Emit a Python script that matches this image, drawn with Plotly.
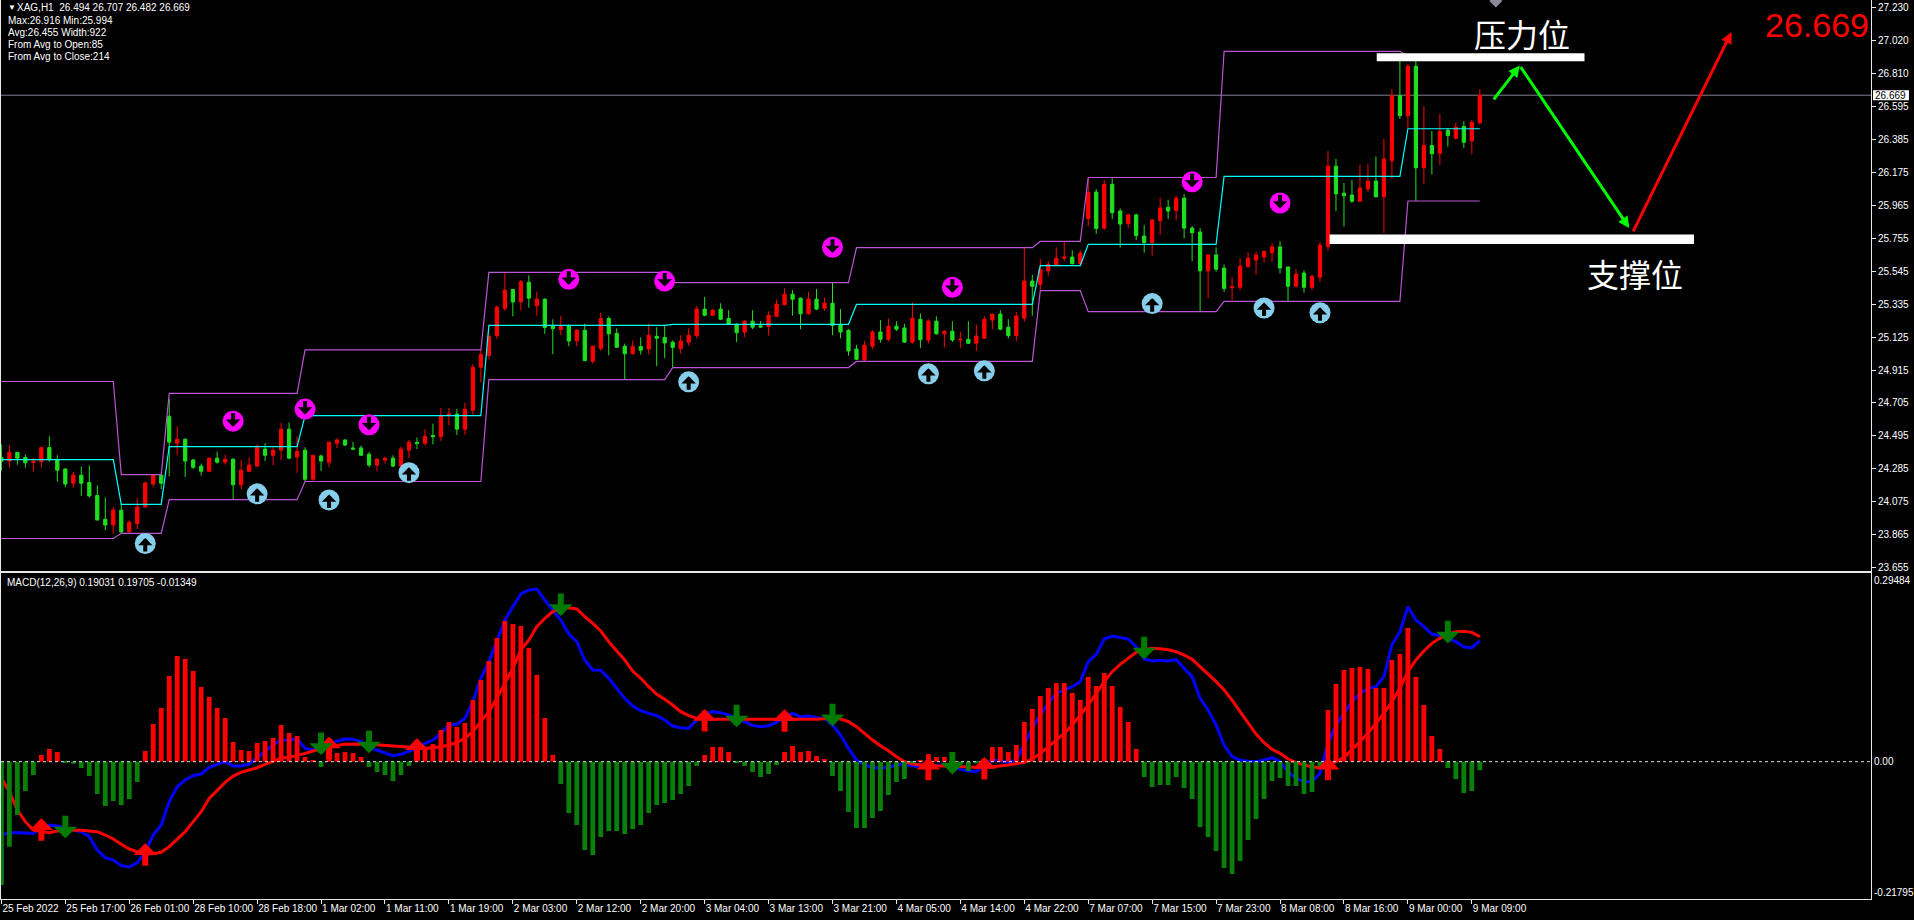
import plotly.graph_objects as go

open_ = [24.357,24.334,24.390,24.357,24.325,24.330,24.420,24.341,24.283,24.193,24.244,24.197,24.114,23.963,23.926,24.021,23.884,23.935,24.042,24.188,24.244,24.620,24.448,24.473,24.341,24.302,24.269,24.353,24.327,24.346,
24.183,24.269,24.302,24.411,24.371,24.404,24.538,24.360,24.404,24.218,24.367,24.327,24.448,24.469,24.418,24.418,24.378,24.309,24.341,24.353,24.302,24.404,24.453,24.448,24.497,24.490,24.629,24.634,24.538,24.659,
24.933,25.009,25.135,25.309,25.429,25.350,25.476,25.325,25.367,25.195,25.174,25.197,25.102,25.169,24.972,25.053,25.244,25.149,25.067,25.019,25.065,25.049,25.130,25.123,25.093,25.053,25.093,25.135,25.304,25.265,
25.304,25.244,25.207,25.158,25.227,25.197,25.193,25.258,25.332,25.399,25.374,25.274,25.367,25.309,25.341,25.204,25.169,25.049,24.979,25.067,25.158,25.111,25.195,25.183,25.093,25.239,25.107,25.227,25.146,25.163,
25.107,25.111,25.086,25.118,25.234,25.272,25.188,25.135,25.246,25.483,25.462,25.548,25.582,25.629,25.636,25.594,25.882,26.051,25.821,26.100,25.930,25.849,25.905,25.770,25.729,25.868,25.954,25.933,26.012,25.821,
25.796,25.548,25.650,25.566,25.441,25.443,25.575,25.617,25.636,25.664,25.701,25.573,25.450,25.534,25.443,25.508,25.703,26.216,26.044,26.032,25.993,26.070,26.121,26.021,26.251,26.666,26.538,26.854,26.206,26.348,
26.299,26.445,26.394,26.469,26.378,26.494]
high = [24.441,24.434,24.390,24.376,24.353,24.427,24.492,24.371,24.288,24.265,24.300,24.306,24.179,24.102,24.040,24.063,23.956,24.098,24.202,24.251,24.248,24.729,24.557,24.480,24.348,24.318,24.357,24.395,24.376,24.353,
24.341,24.357,24.441,24.448,24.422,24.578,24.580,24.492,24.422,24.371,24.376,24.457,24.480,24.473,24.457,24.434,24.392,24.353,24.362,24.371,24.427,24.469,24.485,24.538,24.573,24.673,24.673,24.666,24.708,24.951,
25.044,25.160,25.327,25.534,25.432,25.490,25.520,25.415,25.374,25.239,25.262,25.207,25.176,25.211,25.072,25.281,25.258,25.181,25.084,25.104,25.123,25.211,25.188,25.195,25.104,25.137,25.181,25.323,25.381,25.304,
25.341,25.297,25.211,25.234,25.297,25.227,25.290,25.364,25.436,25.425,25.378,25.413,25.432,25.378,25.473,25.304,25.176,25.074,25.100,25.169,25.234,25.244,25.227,25.211,25.346,25.276,25.239,25.258,25.169,25.227,
25.160,25.227,25.204,25.258,25.276,25.297,25.239,25.285,25.696,25.522,25.624,25.610,25.698,25.733,25.680,25.680,26.139,26.070,26.128,26.139,25.947,25.914,25.914,25.840,25.879,26.016,26.002,26.030,26.037,25.833,
25.821,25.652,25.698,25.589,25.508,25.629,25.668,25.671,25.680,25.726,25.738,25.573,25.559,25.552,25.524,25.731,26.313,26.262,26.109,26.128,26.225,26.232,26.278,26.390,26.708,26.916,26.868,26.916,26.599,26.441,
26.548,26.459,26.492,26.503,26.510,26.707]
low = [24.272,24.295,24.311,24.292,24.267,24.295,24.330,24.202,24.167,24.165,24.112,24.102,23.958,23.893,23.870,23.873,23.877,23.900,24.037,24.167,24.156,24.237,24.371,24.232,24.283,24.241,24.265,24.318,24.313,24.088,
24.156,24.267,24.299,24.334,24.306,24.341,24.346,24.260,24.202,24.209,24.272,24.295,24.418,24.432,24.404,24.371,24.295,24.269,24.318,24.295,24.295,24.353,24.411,24.432,24.441,24.462,24.562,24.501,24.501,24.631,
24.835,24.984,25.114,25.292,25.258,25.297,25.313,25.262,25.146,25.016,25.137,25.067,25.067,24.975,24.956,25.037,25.009,25.060,24.854,25.014,25.014,25.014,24.940,24.991,24.931,25.019,25.070,25.118,25.258,25.260,
25.234,25.207,25.093,25.125,25.176,25.183,25.135,25.253,25.327,25.262,25.176,25.269,25.297,25.292,25.137,25.118,25.007,24.979,24.975,25.049,25.091,25.100,25.165,25.091,25.084,25.056,25.084,25.142,25.060,25.093,
25.056,25.081,25.037,25.114,25.176,25.169,25.118,25.100,25.223,25.262,25.425,25.517,25.578,25.610,25.589,25.587,25.833,25.784,25.810,25.879,25.696,25.821,25.745,25.664,25.645,25.777,25.879,25.872,25.756,25.610,
25.288,25.374,25.543,25.413,25.362,25.425,25.571,25.524,25.601,25.606,25.531,25.353,25.443,25.408,25.425,25.478,25.675,25.930,25.831,25.981,25.988,26.051,26.016,25.791,26.135,26.517,26.459,25.994,26.104,26.162,
26.225,26.341,26.387,26.332,26.292,26.482]
close = [24.334,24.390,24.353,24.323,24.334,24.420,24.343,24.276,24.188,24.244,24.193,24.112,23.958,23.926,24.021,23.882,23.944,24.040,24.195,24.246,24.193,24.455,24.473,24.334,24.295,24.269,24.353,24.327,24.346,24.183,
24.276,24.309,24.420,24.371,24.404,24.538,24.353,24.395,24.218,24.371,24.334,24.455,24.469,24.436,24.411,24.371,24.309,24.346,24.353,24.302,24.411,24.455,24.446,24.492,24.490,24.622,24.634,24.538,24.666,24.933,
25.014,25.130,25.316,25.425,25.350,25.478,25.374,25.367,25.186,25.179,25.193,25.100,25.169,24.975,25.067,25.244,25.146,25.060,25.019,25.065,25.042,25.137,25.118,25.088,25.060,25.100,25.137,25.304,25.265,25.297,
25.239,25.207,25.153,25.227,25.188,25.190,25.265,25.336,25.399,25.367,25.274,25.367,25.304,25.343,25.200,25.158,25.037,24.984,25.074,25.158,25.111,25.195,25.176,25.093,25.246,25.109,25.227,25.146,25.163,25.107,
25.111,25.086,25.132,25.239,25.272,25.176,25.135,25.260,25.483,25.450,25.555,25.589,25.629,25.636,25.594,25.661,26.049,25.819,26.100,25.919,25.847,25.905,25.773,25.729,25.872,25.949,25.930,26.012,25.821,25.791,
25.548,25.650,25.559,25.436,25.448,25.578,25.629,25.650,25.671,25.701,25.566,25.450,25.527,25.443,25.513,25.712,26.216,26.039,26.028,25.993,26.077,26.121,26.021,26.262,26.666,26.538,26.854,26.206,26.348,26.295,
26.438,26.411,26.464,26.369,26.496,26.669]

band_x = [0,14,15,20,21,37,38,60,61,83,84,106,107,129,130,135,136,152,153,175,176,185]
band_upper = [24.842,24.842,24.248,24.248,24.766,24.766,25.044,25.044,25.538,25.538,25.473,25.473,25.696,25.696,25.736,25.736,26.144,26.144,26.949,26.949,26.916,26.916]
band_mid = [24.344,24.344,24.058,24.058,24.427,24.427,24.624,24.624,25.200,25.200,25.207,25.207,25.334,25.334,25.582,25.582,25.717,25.717,26.151,26.151,26.455,26.455]
band_lower = [23.840,23.840,23.873,23.873,24.088,24.088,24.204,24.204,24.854,24.854,24.931,24.931,24.970,24.970,25.422,25.422,25.288,25.288,25.353,25.353,25.994,25.994]

circle_up_x = [18,32,41,51,86,116,123,144,158,165]
circle_up_y = [23.808,24.125,24.086,24.260,24.840,24.891,24.910,25.339,25.311,25.281]
circle_down_x = [29,38,46,71,83,104,119,149,160]
circle_down_y = [24.589,24.666,24.566,25.494,25.483,25.698,25.443,26.116,25.981]

hist = [-.1943,-.1339,-.0840,-.0462,-.0210,.0105,.0200,.0152,-.0011,-.0032,-.0100,-.0226,-.0509,-.0698,-.0620,-.0683,-.0588,-.0320,.0168,.0593,.0845,.1349,.1664,.1617,.1428,.1176,.1019,.0845,.0688,.0310,
.0184,.0168,.0294,.0326,.0373,.0578,.0452,.0404,.0074,.0021,-.0084,.0368,.0137,.0152,.0137,.0074,-.0084,-.0163,-.0210,-.0305,-.0210,-.0068,.0221,.0184,.0278,.0499,.0625,.0546,.0609,.0971,
.1286,.1586,.1948,.2216,.2168,.2137,.1790,.1365,.0688,.0105,-.0352,-.0809,-.0998,-.1391,-.1470,-.1187,-.1092,-.1092,-.1139,-.1061,-.0998,-.0809,-.0683,-.0651,-.0604,-.0509,-.0383,-.0068,.0105,.0231,
.0231,.0152,-.0016,-.0068,-.0163,-.0242,-.0194,-.0053,.0152,.0247,.0152,.0168,.0089,.0042,-.0226,-.0462,-.0793,-.1045,-.1045,-.0887,-.0777,-.0525,-.0320,-.0273,-.0026,.0026,.0121,.0074,.0074,-.0011,
-.0037,-.0147,-.0026,.0005,.0231,.0231,.0152,.0263,.0625,.0830,.1034,.1160,.1239,.1239,.1082,.0971,.1334,.1192,.1397,.1192,.0861,.0625,.0200,-.0242,-.0399,-.0368,-.0368,-.0242,-.0415,-.0588,
-.1029,-.1187,-.1407,-.1675,-.1769,-.1565,-.1234,-.0903,-.0588,-.0305,-.0257,-.0383,-.0383,-.0509,-.0478,-.0105,.0814,.1223,.1444,.1475,.1491,.1460,.1160,.1160,.1601,.1696,.2105,.1334,.0893,.0404,
.0200,-.0100,-.0273,-.0494,-.0462,-.01349]

macd = [-.1155,-.1118,-.1118,-.1129,-.1129,-.1024,-.0998,-.1013,-.1050,-.1076,-.1103,-.1181,-.1391,-.1512,-.1549,-.1638,-.1659,-.1591,-.1418,-.1155,-.0998,-.0630,-.0394,-.0289,-.0221,-.0194,-.0089,-.0042,0,-.0068,
-.0068,-.0037,.0063,.0158,.0263,.0341,.0341,.0357,.0210,.0184,.0221,.0263,.0326,.0357,.0352,.0315,.0226,.0184,.0142,.0095,.0116,.0158,.0210,.0289,.0341,.0446,.0578,.0588,.0683,.0945,
.1313,.1575,.1916,.2231,.2441,.2641,.2704,.2720,.2546,.2389,.2231,.2011,.1890,.1601,.1444,.1439,.1313,.1155,.0998,.0877,.0803,.0761,.0725,.0656,.0562,.0536,.0525,.0656,.0746,.0788,
.0772,.0735,.0683,.0620,.0572,.0551,.0567,.0620,.0709,.0761,.0709,.0719,.0693,.0683,.0578,.0420,.0210,.0026,-.0042,-.0095,-.0105,-.0089,-.0053,-.0037,-.0068,-.0079,-.0068,-.0053,-.0053,-.0079,
-.0121,-.0147,-.0158,-.0053,.0026,.0016,-.0011,.0026,.0289,.0525,.0735,.0919,.1076,.1129,.1181,.1260,.1575,.1691,.1932,.1979,.1958,.1932,.1811,.1617,.1586,.1596,.1586,.1607,.1470,.1339,
.0998,.0814,.0578,.0263,.0079,.0021,.0005,0,.0026,.0063,0,-.0158,-.0263,-.0315,-.0315,-.0184,.0289,.0578,.0761,.0945,.1076,.1155,.1181,.1339,.1838,.2048,.2441,.2231,.2126,.2011,
.1985,.1932,.1890,.1806,.1796,.19031]

signal_x = [0,1,2,3,4,5,6,7,8,10,12,13,14,15,16,17,18,19,20,21,22,23,24,25,26,27,28,29,30,31,32,33,34,35,36,37,38,39,40,41,42,43,44,45,46,47,48,49,50,51,52,53,54,55,56,57,58,59,60,61,62,63,64,65,66,67,68,69,70,71,72,73,74,75,76,77,78,79,80,81,82,83,84,85,86,87,88,90,92,94,96,98,100,102,104,105,106,107,108,109,110,111,112,113,114,115,116,118,120,122,124,126,128,129,130,131,132,133,134,135,136,137,138,139,140,141,142,143,144,145,146,147,148,149,150,151,152,153,154,155,156,157,158,159,160,161,162,163,164,165,166,167,168,169,170,171,172,173,174,175,176,177,178,179,180,181,182,183,184,185]
signal = [-.0263,-.0473,-.0761,-.0945,-.1076,-.1103,-.1118,-.1092,-.1076,-.1082,-.1103,-.1155,-.1218,-.1302,-.1376,-.1418,-.1449,-.1449,-.1428,-.1339,-.1218,-.1103,-.0945,-.0788,-.0578,-.0446,-.0326,-.0226,-.0168,-.0131,-.0095,-.0042,.0011,.0053,.0068,.0095,.0131,.0168,.0200,.0226,.0257,.0273,.0278,.0278,.0273,.0263,.0252,.0242,.0231,.0221,.0210,.0210,.0221,.0236,.0263,.0305,.0368,.0473,.0630,.0788,.0998,.1234,.1470,.1759,.1916,.2126,.2258,.2363,.2415,.2426,.2405,.2284,.2179,.2058,.1890,.1743,.1601,.1428,.1313,.1181,.1061,.0982,.0893,.0788,.0725,.0683,.0672,.0667,.0667,.0667,.0667,.0656,.0656,.0667,.0683,.0672,.0630,.0551,.0446,.0341,.0252,.0173,.0079,0,-.0037,-.0053,-.0063,-.0068,-.0084,-.0089,-.0079,-.0053,-.0011,.0042,.0131,.0236,.0341,.0446,.0578,.0735,.0893,.1076,.1260,.1418,.1533,.1628,.1722,.1769,.1785,.1780,.1764,.1733,.1680,.1612,.1496,.1391,.1260,.1129,.0971,.0788,.0604,.0436,.0299,.0194,.0131,.0042,-.0016,-.0053,-.0084,-.0095,-.0053,0,.0063,.0184,.0315,.0446,.0604,.0761,.0945,.1155,.1418,.1601,.1743,.1864,.1943,.2011,.2048,.2053,.2037,.19705]

buy_x = [5,18,41,52,88,98,116,123,166]
buy_y = [-.0893,-.1286,.0394,.0368,.0830,.0824,.0063,.0074,.0063]
sell_x = [8,40,46,70,92,104,119,143,181]
sell_y = [-.1208,.0105,.0131,.2294,.0541,.0557,-.0200,.1612,.1864]

price_ticks = [27.230,27.020,26.810,26.595,26.385,26.175,25.965,25.755,25.545,25.335,25.125,24.915,24.705,24.495,24.285,24.075,23.865,23.655]
time_labels = ["25 Feb 2022","25 Feb 17:00","26 Feb 01:00","28 Feb 10:00","28 Feb 18:00","1 Mar 02:00","1 Mar 11:00","1 Mar 19:00","2 Mar 03:00","2 Mar 12:00","2 Mar 20:00","3 Mar 04:00","3 Mar 13:00","3 Mar 21:00","4 Mar 05:00","4 Mar 14:00","4 Mar 22:00","7 Mar 07:00","7 Mar 15:00","7 Mar 23:00","8 Mar 08:00","8 Mar 16:00","9 Mar 00:00","9 Mar 09:00"]
time_ticks = [0,8,16,24,32,40,48,56,64,72,80,88,96,104,112,120,128,136,144,152,160,168,176,184]
header_lines = ["Max:26.916 Min:25.994","Avg:26.455 Width:922","From Avg to Open:85","From Avg to Close:214"]
macd_ticks = [.2851,0,-.2063]
macd_labels = ["0.29484","0.00","-0.21795"]
last_price = 26.669

FONT = "Liberation Sans"
FS = 10
UP, DOWN = "#ff0000", "#1fe01f"
HUP, HDOWN = "#ff0000", "#0a800a"
idx = list(range(len(close)))
XR = [-0.05, 233.95]
YR = [23.6327, 27.2766]
MR = [-0.2163, 0.2972]

fig = go.Figure()
fig.add_trace(go.Candlestick(x=idx, open=open_, high=high, low=low, close=close,
    increasing=dict(line=dict(color=UP, width=1), fillcolor=UP),
    decreasing=dict(line=dict(color=DOWN, width=1), fillcolor=DOWN),
    whiskerwidth=0, xaxis="x", yaxis="y", showlegend=False))
for vals, col in [(band_upper, "#ba55d3"), (band_lower, "#ba55d3"), (band_mid, "#00ffff")]:
    fig.add_trace(go.Scatter(x=band_x, y=vals, mode="lines", line=dict(color=col, width=1.2),
                             xaxis="x", yaxis="y", showlegend=False))
fig.add_trace(go.Scatter(x=circle_up_x, y=circle_up_y, mode="markers",
    marker=dict(symbol="circle", size=21, color="#87ceeb"), xaxis="x", yaxis="y", showlegend=False))
fig.add_trace(go.Scatter(x=circle_down_x, y=circle_down_y, mode="markers",
    marker=dict(symbol="circle", size=21, color="#ff00ff"), xaxis="x", yaxis="y", showlegend=False))
fig.add_trace(go.Scatter(x=[187], y=[27.27], mode="markers",
    marker=dict(symbol="diamond", size=10, color="#8a8a9a"), xaxis="x", yaxis="y", showlegend=False))

fig.add_trace(go.Scatter(x=idx, y=macd, mode="lines", line=dict(color="#0000ff", width=3),
                         xaxis="x2", yaxis="y2", showlegend=False))
fig.add_trace(go.Scatter(x=signal_x, y=signal, mode="lines", line=dict(color="#ff0000", width=3),
                         xaxis="x2", yaxis="y2", showlegend=False))
fig.add_trace(go.Bar(x=idx, y=hist, marker=dict(color=[HUP if v > 0 else HDOWN for v in hist], line=dict(width=0)),
                     xaxis="x3", yaxis="y3", showlegend=False))

H = 899.0
AX = "#e8e8e8"
fig.update_layout(
    width=1914, height=920, margin=dict(l=1, r=41, t=0, b=21),
    paper_bgcolor="#000000", plot_bgcolor="#000000", bargap=0.4, boxgap=0.42, dragmode=False,
    font=dict(family=FONT, size=FS, color="#ffffff"),
    xaxis=dict(domain=[0, 1], range=XR, anchor="y", showgrid=False, zeroline=False, showticklabels=False,
               ticks="", showline=True, linecolor=AX, linewidth=1, rangeslider=dict(visible=False)),
    yaxis=dict(domain=[(H - 571) / H, 1], range=YR, side="right", anchor="x", showgrid=False, zeroline=False,
               tickmode="array", tickvals=price_ticks, ticktext=[f"{v:.3f}" for v in price_ticks],
               ticks="outside", ticklen=4, tickcolor=AX, tickfont=dict(family=FONT, size=FS, color="#fff"),
               showline=True, mirror=True, linecolor=AX, linewidth=1),
    xaxis2=dict(domain=[0, 1], range=XR, anchor="y2", showgrid=False, zeroline=False,
                tickmode="array", tickvals=time_ticks, ticktext=time_labels, ticks="outside", ticklen=4,
                tickcolor=AX, ticklabelposition="outside right", tickangle=0,
                tickfont=dict(family=FONT, size=FS, color="#fff"),
                showline=True, mirror=True, linecolor=AX, linewidth=1),
    yaxis2=dict(domain=[0, (H - 573) / H], range=MR, side="right", anchor="x2", showgrid=False, zeroline=False,
                tickmode="array", tickvals=macd_ticks, ticktext=macd_labels, ticks="", ticklen=0,
                tickfont=dict(family=FONT, size=FS, color="#fff"),
                showline=True, mirror=True, linecolor=AX, linewidth=1),
    xaxis3=dict(domain=[0, 1], range=XR, anchor="y3", overlaying="x2", visible=False),
    yaxis3=dict(domain=[0, (H - 573) / H], range=MR, anchor="x3", overlaying="y2", visible=False),
)

def px_x(px): return (px - 1) / 1872.0
def px_y(px): return (899 - px) / 899.0

shapes = [
    dict(type="line", xref="paper", yref="y", x0=0, x1=1, y0=last_price, y1=last_price,
         line=dict(color="#808090", width=1), layer="below"),
    dict(type="line", xref="paper", yref="y2", x0=0, x1=1, y0=0, y1=0,
         line=dict(color="#e0e0e0", width=1, dash="3px,3px")),
    dict(type="rect", xref="x", yref="y", x0=172.1, x1=198.1, y0=26.886, y1=26.937,
         fillcolor="#ffffff", line=dict(width=0)),
    dict(type="rect", xref="x", yref="y", x0=166.2, x1=211.8, y0=25.719, y1=25.780,
         fillcolor="#ffffff", line=dict(width=0)),
    dict(type="rect", xref="paper", yref="y", x0=px_x(1875), x1=px_x(1911), y0=last_price - 0.032, y1=last_price + 0.032,
         fillcolor="#ffffff", line=dict(width=0)),
]
fig.update_layout(shapes=shapes)

ann = []
def text(x, y, t, size=FS, color="#ffffff", family=FONT, xanchor="left", xref="paper", yref="paper", **kw):
    ann.append(dict(x=x, y=y, text=t, xref=xref, yref=yref, xanchor=xanchor, yanchor="middle", showarrow=False,
                    font=dict(family=family, size=size, color=color), **kw))

text(px_x(6), px_y(8), "▼", size=8)
text(px_x(15.5), px_y(8), "XAG,H1  26.494 26.707 26.482 26.669")
for i, line in enumerate(header_lines):
    text(px_x(5.7), px_y(20.7 + 12 * i), line)
text(px_x(5), px_y(582), "MACD(12,26,9) 0.19031 0.19705 -0.01349")
text(px_x(1524), px_y(32.7), "压力位", size=32, family="Noto Sans CJK SC", xanchor="center")
text(px_x(1637), px_y(272.7), "支撑位", size=32, family="Noto Sans CJK SC", xanchor="center")
text(px_x(1819), px_y(24.7), "26.669", size=34, color="#ff0000", family="Liberation Sans", xanchor="center")
text(px_x(1893), last_price, f"{last_price:.3f}", color="#000000", yref="y", xanchor="center")

def arrow(x, y, ax, ay, color, width, size, head=1, xref="x", yref="y", **kw):
    ann.append(dict(x=x, y=y, ax=ax, ay=ay, xref=xref, yref=yref, text="", showarrow=True, arrowhead=head,
                    arrowsize=size, arrowwidth=width, arrowcolor=color, standoff=0, startstandoff=0, **kw))

for x, y in zip(circle_up_x, circle_up_y):
    arrow(x, y + 0.035, 0, 15, "#000000", 4, 0.6)
for x, y in zip(circle_down_x, circle_down_y):
    arrow(x, y - 0.035, 0, -15, "#000000", 4, 0.6)
for x, y in zip(buy_x, buy_y):
    arrow(x, y, 0, 24, "#ff0000", 6, 0.65, xref="x2", yref="y2")
for x, y in zip(sell_x, sell_y):
    arrow(x, y, 0, -24, "#007a00", 6, 0.65, xref="x2", yref="y2")

arrow(190, 26.858, 186.6, 26.633, "#00ff00", 3, 0.75, head=2, axref="x", ayref="y")
arrow(203.7, 25.821, 190, 26.858, "#00ff00", 3, 0.75, head=2, axref="x", ayref="y")
arrow(216.5, 27.072, 204.1, 25.791, "#ff0000", 3, 0.75, head=2, axref="x", ayref="y")
fig.update_layout(annotations=ann)

fig.write_html("out.html", config=dict(displayModeBar=False),
               post_script="document.body.style.margin='0';document.body.style.background='#000';document.body.style.overflow='hidden';")
